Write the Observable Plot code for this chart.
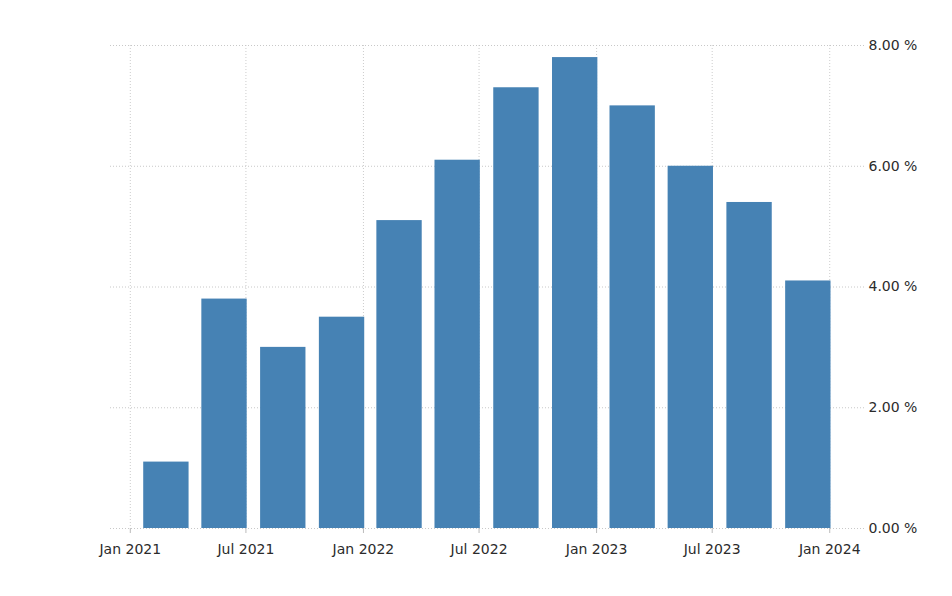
<!DOCTYPE html>
<html><head><meta charset="utf-8">
<script src="https://cdn.jsdelivr.net/npm/d3@7"></script>
<script src="https://cdn.jsdelivr.net/npm/@observablehq/plot@0.6"></script>
<style>body{margin:0;background:#fff;} svg{display:block;}</style>
</head><body><div id="chart"></div>
<script>
const quarters = ["2021-03-31","2021-06-30","2021-09-30","2021-12-31","2022-03-31","2022-06-30","2022-09-30","2022-12-31","2023-03-31","2023-06-30","2023-09-30","2023-12-31"];
const values = [1.1, 3.8, 3.0, 3.5, 5.1, 6.1, 7.3, 7.8, 7.0, 6.0, 5.4, 4.1];
const xTicks = ["2021-01-01","2021-07-01","2022-01-01","2022-07-01","2023-01-01","2023-07-01","2024-01-01"].map(s => new Date(s));
const yTicks = [0, 2, 4, 6, 8];
const data = quarters.map((q, i) => ({date: new Date(q), value: values[i]}));

const font = "'DejaVu Sans', Verdana, sans-serif";
const chart = Plot.plot({
  width: 952,
  height: 596,
  marginLeft: 110,
  marginRight: 87,
  marginTop: 45,
  marginBottom: 68,
  style: {fontFamily: font, fontSize: "14px", background: "#fff"},
  x: {type: "utc", domain: [new Date("2020-12-01"), new Date("2024-02-26")]},
  y: {domain: [0, 8]},
  marks: [
    Plot.gridX(xTicks, {stroke: "#cccccc", strokeOpacity: 1, strokeDasharray: "1,2"}),
    Plot.gridY(yTicks, {stroke: "#c8c8c8", strokeOpacity: 1, strokeDasharray: "1,2"}),
    Plot.rectY(data, {
      x1: d => d3.utcDay.offset(d.date, -68),
      x2: d => d3.utcDay.offset(d.date, 3),
      y1: 0,
      y2: "value",
      fill: "#4682b4"
    }),
    Plot.axisX({ticks: xTicks, tickSize: 5, stroke: "#bbb", fill: "#2b2b2b", tickPadding: 11,
      tickFormat: d3.utcFormat("%b %Y"), fontSize: 14, label: null}),
    Plot.axisY({anchor: "right", ticks: yTicks, tickSize: 0, tickPadding: 3,
      tickFormat: d => d.toFixed(2) + " %", fill: "#2b2b2b", fontSize: 14, label: null})
  ]
});
document.getElementById("chart").append(chart);
</script>
</body></html>
